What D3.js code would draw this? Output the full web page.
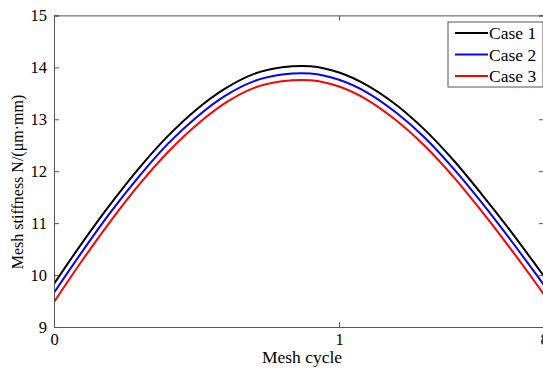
<!DOCTYPE html>
<html>
<head>
<meta charset="utf-8">
<script src="https://cdn.jsdelivr.net/npm/d3@7"></script>
<style>
  body { margin: 0; background: #fff; }
  text { font-family: "Liberation Serif", "Times New Roman", serif; fill: #000; }
</style>
</head>
<body>
<div id="chart"></div>
<script>
// mesh cycle positions (data units)
var cycle = [0, 0.1, 0.2, 0.3, 0.4, 0.5, 0.6, 0.7, 0.8, 0.9, 1.0, 1.1, 1.2, 1.3, 1.4, 1.5, 1.6, 1.7, 1.72];
var case1 = [9.83, 10.63, 11.38, 12.07, 12.68, 13.19, 13.59, 13.87, 14.00, 14.02, 13.90, 13.65, 13.28, 12.80, 12.22, 11.56, 10.86, 10.12, 9.97];
var case2 = [9.66, 10.46, 11.22, 11.91, 12.53, 13.04, 13.45, 13.73, 13.86, 13.88, 13.76, 13.51, 13.13, 12.65, 12.06, 11.40, 10.69, 9.95, 9.80];
var case3 = [9.48, 10.29, 11.05, 11.75, 12.37, 12.89, 13.31, 13.60, 13.73, 13.75, 13.63, 13.37, 12.98, 12.49, 11.90, 11.23, 10.52, 9.77, 9.61];

var seriesNames = ['Case 1', 'Case 2', 'Case 3'];
var seriesColors = ['#000000', '#0000ff', '#ff0000'];
var yTicks = [9, 10, 11, 12, 13, 14, 15];
var xTicks = [0, 1, 1.719];
var xTickLabels = ['0', '1', '8'];

var W = 543, H = 371;
var margin = {top: 15.4, right: -1, bottom: 44, left: 54};
var width = W - margin.left - margin.right;
var height = 327 - margin.top;

var svg = d3.select('#chart').append('svg')
  .attr('width', W)
  .attr('height', H);

var g = svg.append('g')
  .attr('transform', 'translate(' + margin.left + ',' + margin.top + ')');

var x = d3.scaleLinear().domain([0, 1.719]).range([0, width]);
var y = d3.scaleLinear().domain([9, 15]).range([height, 0]);

g.append('clipPath').attr('id', 'clip')
  .append('rect').attr('width', width).attr('height', height);

// curves
var allSeries = [case1, case2, case3];
var line = d3.line()
  .x(function(d) { return x(d[0]); })
  .y(function(d) { return y(d[1]); })
  .curve(d3.curveCatmullRom);

allSeries.forEach(function(vals, i) {
  g.append('path')
    .datum(cycle.map(function(c, j) { return [c, vals[j]]; }))
    .attr('clip-path', 'url(#clip)')
    .attr('fill', 'none')
    .attr('stroke', seriesColors[i])
    .attr('stroke-width', 2)
    .attr('d', line);
});

// axes (ticks point inward, like the original)
var axisColor = '#555';
var yAxis = g.append('g')
  .call(d3.axisLeft(y).tickValues(yTicks).tickSize(-5).tickPadding(9).tickFormat(d3.format('d')));
var xAxis = g.append('g')
  .attr('transform', 'translate(0,' + height + ')')
  .call(d3.axisBottom(x).tickValues(xTicks).tickSize(-5).tickPadding(6)
    .tickFormat(function(d, i) { return xTickLabels[i]; }));
g.append('g')
  .call(d3.axisTop(x).tickValues(xTicks).tickSize(-5).tickFormat(''));
g.append('g')
  .attr('transform', 'translate(' + width + ',0)')
  .call(d3.axisRight(y).tickValues(yTicks).tickSize(-5).tickFormat(''));

g.selectAll('.domain').attr('stroke', axisColor);
g.selectAll('.tick line').attr('stroke', axisColor);
g.selectAll('.tick text').style('font-size', '16.5px')
  .style('font-family', '"Liberation Serif", serif').attr('fill', '#000');
yAxis.selectAll('.tick text').attr('dx', '2');

// axis titles
svg.append('text')
  .attr('x', 302).attr('y', 363)
  .attr('text-anchor', 'middle')
  .style('font-size', '17.5px')
  .text('Mesh cycle');

svg.append('text')
  .attr('transform', 'translate(23,182) rotate(-90)')
  .attr('text-anchor', 'middle')
  .style('font-size', '16px')
  .text('Mesh stiffness N/(\u03bcm\u00b7mm)');

// legend
var legend = svg.append('g').attr('transform', 'translate(448,22)');
legend.append('rect')
  .attr('width', 95).attr('height', 65)
  .attr('fill', '#fff').attr('stroke', axisColor);
seriesNames.forEach(function(name, i) {
  var ly = 11 + i * 21.5;
  legend.append('line')
    .attr('x1', 7).attr('x2', 40).attr('y1', ly).attr('y2', ly)
    .attr('stroke', seriesColors[i]).attr('stroke-width', 2);
  legend.append('text')
    .attr('x', 41).attr('y', ly + 6)
    .style('font-size', '17.5px')
    .text(name);
});
</script>
</body>
</html>
